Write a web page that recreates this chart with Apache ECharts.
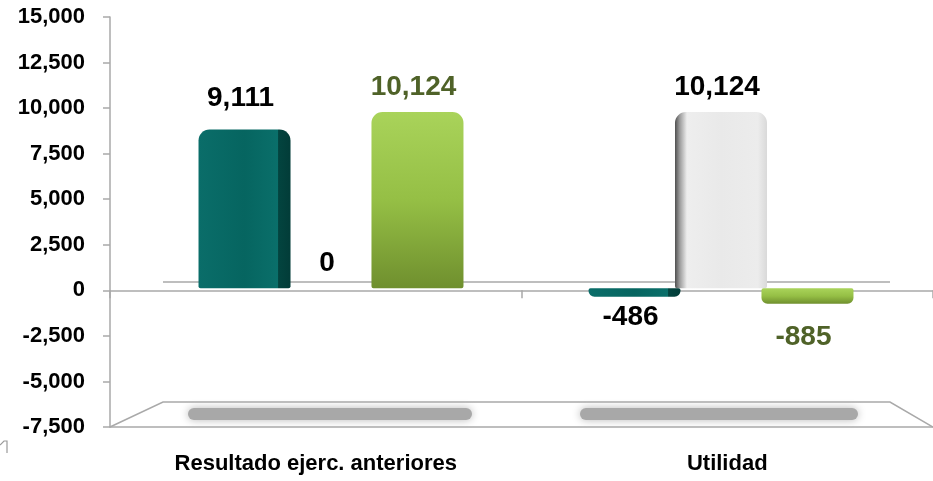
<!DOCTYPE html>
<html>
<head>
<meta charset="utf-8">
<script src="https://cdn.jsdelivr.net/npm/echarts@6/dist/echarts.min.js"></script>
<style>
  html, body { margin: 0; padding: 0; background: #fff; }
  #chart { width: 933px; height: 481px; }
</style>
</head>
<body>
<div id="chart"></div>
<script>
const categories = ['Resultado ejerc. anteriores', 'Utilidad'];
const tealValues = [9111, -486];
const whiteValues = [0, 10124];
const greenValues = [10124, -885];
const yMin = -7500;
const yMax = 15000;
const yStep = 2500;

const FONT = '"Liberation Sans", Arial, sans-serif';
const AXIS_GREY = '#a9a9a9';

const fmt = (v) => Number(v).toLocaleString('en-US');

// positive labels above, negative below, distance per sign
function makeData(values, upDist, downDist) {
  return values.map((v) => ({
    value: v,
    label: { position: v < 0 ? 'bottom' : 'top', distance: v < 0 ? downDist : upDist },
    itemStyle: { borderRadius: v < 0 ? [2, 2, 6, 6] : [11, 11, 2, 2] },
  }));
}

const labelBase = {
  show: true,
  fontFamily: FONT,
  fontWeight: 'bold',
  fontSize: 28,
  color: '#000',
  offset: [-4, 0],
  formatter: ({ value }) => fmt(value),
};

const chart = echarts.init(document.getElementById('chart'));

chart.setOption({
  animation: false,
  backgroundColor: '#fff',
  grid: [
    // axes / frame
    { left: 110, top: 17, width: 830, height: 410 },
    // bars sit on the back plane, a bit smaller and shifted
    { left: 136, top: 27, width: 780, height: 392 },
  ],
  xAxis: [
    {
      type: 'category',
      gridIndex: 0,
      data: categories,
      axisLine: { onZero: true, lineStyle: { color: AXIS_GREY, width: 1.5 } },
      axisTick: { show: true, length: 8, lineStyle: { color: AXIS_GREY, width: 1.5 } },
      axisLabel: { show: false },
    },
    {
      type: 'category',
      gridIndex: 0,
      data: categories,
      position: 'bottom',
      axisLine: { onZero: false, lineStyle: { color: AXIS_GREY, width: 1.5 } },
      axisTick: { show: false },
      axisLabel: {
        margin: 26,
        fontFamily: FONT,
        fontWeight: 'bold',
        fontSize: 22,
        color: '#000',
      },
    },
    {
      type: 'category',
      gridIndex: 1,
      data: categories,
      show: false,
    },
  ],
  yAxis: [
    {
      type: 'value',
      gridIndex: 0,
      min: yMin,
      max: yMax,
      interval: yStep,
      axisLine: { show: true, lineStyle: { color: AXIS_GREY, width: 1.5 } },
      axisTick: { show: true, length: 7, lineStyle: { color: AXIS_GREY, width: 1.5 } },
      splitLine: { show: false },
      axisLabel: {
        margin: 25,
        fontFamily: FONT,
        fontWeight: 'bold',
        fontSize: 22,
        color: '#000',
        formatter: (v) => fmt(v),
      },
    },
    {
      type: 'value',
      gridIndex: 1,
      min: yMin,
      max: yMax,
      show: false,
      splitLine: { show: false },
    },
  ],
  graphic: [
    // back edge of the zero plane
    { type: 'line', shape: { x1: 163, y1: 282, x2: 890, y2: 282 }, style: { stroke: AXIS_GREY, lineWidth: 1.5 }, z: 1 },
    // floor
    {
      type: 'polyline',
      shape: { points: [[110, 427], [163, 402], [890, 402], [933, 427]] },
      style: { stroke: AXIS_GREY, lineWidth: 1.5, fill: null },
      z: 1,
    },
    // floor shadows
    {
      type: 'rect',
      shape: { x: 188, y: 408, width: 284, height: 12, r: 6 },
      style: { fill: '#a8a8a8', shadowBlur: 8, shadowColor: '#b8b8b8' },
      z: 1,
    },
    {
      type: 'rect',
      shape: { x: 580, y: 408, width: 278, height: 12, r: 6 },
      style: { fill: '#a8a8a8', shadowBlur: 8, shadowColor: '#b8b8b8' },
      z: 1,
    },
    // stray mark at bottom left
    {
      type: 'polyline',
      shape: { points: [[0, 445], [4, 441], [7, 441], [7, 453]] },
      style: { stroke: '#9a9a9a', lineWidth: 1.2, fill: null },
    },
  ],
  series: [
    {
      name: 'Serie 1',
      type: 'bar',
      xAxisIndex: 2,
      yAxisIndex: 1,
      barWidth: 92,
      barGap: '-6%',
      data: makeData(tealValues, 17, 6),
      itemStyle: {
        color: new echarts.graphic.LinearGradient(0, 0, 1, 0, [
          { offset: 0, color: '#0a6d69' },
          { offset: 0.5, color: '#066560' },
          { offset: 0.86, color: '#0a6f6a' },
          { offset: 0.87, color: '#03443f' },
          { offset: 1, color: '#023c38' },
        ]),
      },
      label: { ...labelBase },
      z: 3,
    },
    {
      name: 'Serie 2',
      type: 'bar',
      xAxisIndex: 2,
      yAxisIndex: 1,
      barWidth: 92,
      barGap: '-6%',
      data: makeData(whiteValues, 11, 8),
      itemStyle: {
        color: new echarts.graphic.LinearGradient(0, 0, 1, 0, [
          { offset: 0, color: '#4f4f4f' },
          { offset: 0.05, color: '#9a9a9a' },
          { offset: 0.13, color: '#eeeeee' },
          { offset: 0.5, color: '#e9e9e9' },
          { offset: 0.9, color: '#ececec' },
          { offset: 1, color: '#d9d9d9' },
        ]),
      },
      label: { ...labelBase },
      z: 2,
    },
    {
      name: 'Serie 3',
      type: 'bar',
      xAxisIndex: 2,
      yAxisIndex: 1,
      barWidth: 92,
      barGap: '-6%',
      data: makeData(greenValues, 11, 20),
      itemStyle: {
        color: new echarts.graphic.LinearGradient(0, 0, 0, 1, [
          { offset: 0, color: '#a9d35a' },
          { offset: 0.5, color: '#95bf45' },
          { offset: 1, color: '#6f8f2e' },
        ]),
      },
      label: { ...labelBase, color: '#4f6228' },
      z: 3,
    },
  ],
});
</script>
</body>
</html>
